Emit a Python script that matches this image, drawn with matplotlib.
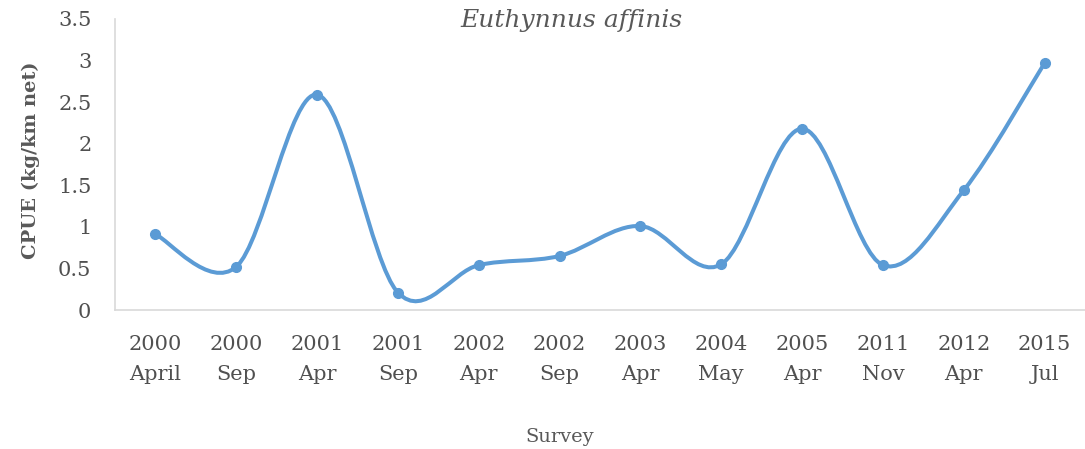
import numpy as np
import matplotlib.pyplot as plt
from matplotlib.path import Path
from matplotlib.patches import PathPatch

surveys = ['2000\nApril', '2000\nSep', '2001\nApr', '2001\nSep', '2002\nApr', '2002\nSep',
           '2003\nApr', '2004\nMay', '2005\nApr', '2011\nNov', '2012\nApr', '2015\nJul']
cpue = [0.91, 0.52, 2.59, 0.21, 0.54, 0.65, 1.01, 0.55, 2.18, 0.54, 1.44, 2.97]

blue = '#5B9BD5'
grey = '#595959'
plt.rcParams['font.family'] = 'DejaVu Serif'

fig = plt.figure(figsize=(10.85, 4.49), dpi=100)
ax = fig.add_axes([115/1085, (449-310)/449, 970/1085, 291/449])

x = np.arange(len(cpue))
y = np.array(cpue)

# excel style smoothed line (catmull-rom as cubic bezier)
xp = np.concatenate([[x[0]], x, [x[-1]]])
yp = np.concatenate([[y[0]], y, [y[-1]]])
verts = [(x[0], y[0])]
codes = [Path.MOVETO]
for i in range(len(x) - 1):
    j = i + 1
    c1 = (xp[j] + (xp[j+1] - xp[j-1]) / 6, yp[j] + (yp[j+1] - yp[j-1]) / 6)
    c2 = (xp[j+1] - (xp[j+2] - xp[j]) / 6, yp[j+1] - (yp[j+2] - yp[j]) / 6)
    verts += [c1, c2, (x[i+1], y[i+1])]
    codes += [Path.CURVE4] * 3
ax.add_patch(PathPatch(Path(verts, codes), fill=False, edgecolor=blue, lw=2.9,
                       capstyle='round', joinstyle='round'))
ax.plot(x, y, 'o', color=blue, ms=7)

ax.set_xlim(-0.5, len(cpue) - 0.5)
ax.set_ylim(0, 3.5)
ax.set_yticks(np.arange(0, 3.51, 0.5))
ax.set_yticklabels(['0', '0.5', '1', '1.5', '2', '2.5', '3', '3.5'])
ax.set_xticks(x)
ax.set_xticklabels(surveys, linespacing=1.72)
ax.tick_params(length=0, labelsize=15, colors='#505050')
ax.tick_params(axis='x', pad=18)
ax.tick_params(axis='y', pad=17)
for s in ['top', 'right']:
    ax.spines[s].set_visible(False)
for s in ['left', 'bottom']:
    ax.spines[s].set_color('#d9d9d9')
    ax.spines[s].set_linewidth(1.2)

fig.text(571/1085, 1 - 21/449, 'Euthynnus affinis', style='italic', fontsize=18,
         color=grey, ha='center', va='center')
fig.text(31/1085, 1 - 160/449, 'CPUE (kg/km net)', rotation=90, fontsize=14,
         fontweight='semibold', color=grey, ha='center', va='center')
fig.text(560/1085, 1 - 437/449, 'Survey', fontsize=14, color=grey,
         ha='center', va='center')

plt.savefig('out.png', dpi=100)
